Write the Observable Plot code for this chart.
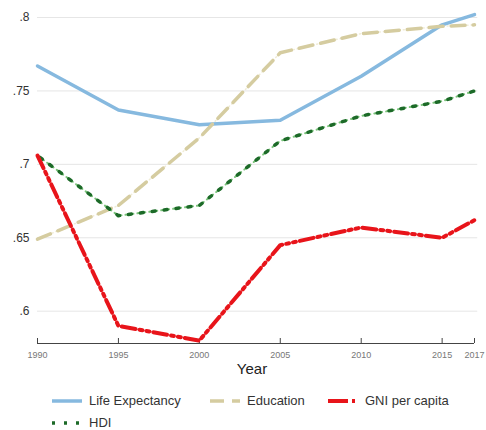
<!DOCTYPE html>
<html>
<head>
<meta charset="utf-8">
<script src="https://cdn.jsdelivr.net/npm/d3@7"></script>
<script src="https://cdn.jsdelivr.net/npm/@observablehq/plot@0.6"></script>
<style>
  body { margin: 0; background: #fff; font-family: "Liberation Sans", Arial, sans-serif; }
  #chart { width: 486px; }
  .legend { position: relative; height: 45px; font-size: 13px; color: #333; }
  .item { position: absolute; display: flex; align-items: center; white-space: nowrap; line-height: 14px; }
  .item svg { margin-right: 5px; }
</style>
</head>
<body>
<div id="chart"></div>
<script>
const years = [1990, 1995, 2000, 2005, 2010, 2015, 2017];
const lifeExpectancy = [0.767, 0.737, 0.727, 0.730, 0.760, 0.795, 0.802];
const education = [0.649, 0.672, 0.718, 0.776, 0.789, 0.794, 0.795];
const gniPerCapita = [0.706, 0.590, 0.580, 0.645, 0.657, 0.650, 0.662];
const hdi = [0.706, 0.665, 0.672, 0.716, 0.733, 0.743, 0.750];
const yTicks = [0.6, 0.65, 0.7, 0.75, 0.8];
const xTicks = [1990, 1995, 2000, 2005, 2010, 2015, 2017];

const series = [
  {name: "Life Expectancy", values: lifeExpectancy},
  {name: "Education", values: education},
  {name: "GNI per capita", values: gniPerCapita},
  {name: "HDI", values: hdi}
];
const rows = series.flatMap(s => years.map((y, i) => ({series: s.name, year: y, value: s.values[i]})));
const pick = n => rows.filter(d => d.series === n);

const yMin = 0.578;
const fmtY = d => d3.format(".2~f")(d).replace(/^0/, "");

const plot = Plot.plot({
  width: 486,
  height: 385,
  marginTop: 17,
  marginLeft: 37,
  marginRight: 12,
  marginBottom: 42,
  style: {fontFamily: "Liberation Sans, Arial, sans-serif", background: "#fff"},
  x: {domain: [1990, 2017]},
  y: {domain: [yMin, 0.8]},
  marks: [
    Plot.gridY(yTicks, {stroke: "#e6e6e6", strokeOpacity: 1, x1: 1990, x2: 2017.2}),
    Plot.axisY(yTicks, {tickSize: 0, tickPadding: 8, tickFormat: fmtY, fontSize: 12, fill: "#333", label: null}),
    Plot.ruleY([yMin], {stroke: "#444", strokeWidth: 1.2}),
    Plot.axisX(xTicks, {tickSize: -5, tickPadding: 13, tickFormat: d => String(d), fontSize: 9, fill: "#777", stroke: "#444", label: null}),
    Plot.text(["Year"], {frameAnchor: "bottom", dy: 30, dx: -4, fontSize: 15, fill: "#222"}),
    Plot.line(pick("Life Expectancy"), {x: "year", y: "value", stroke: "#86b9df", strokeWidth: 3.5}),
    Plot.line(pick("Education"), {x: "year", y: "value", stroke: "#f0ecd6", strokeWidth: 1.5, strokeDasharray: "1,3"}),
    Plot.line(pick("Education"), {x: "year", y: "value", stroke: "#d5cca0", strokeWidth: 3.5, strokeDasharray: "14,8"}),
    Plot.line(pick("HDI"), {x: "year", y: "value", stroke: "#7cc47c", strokeWidth: 2, strokeDasharray: "2,4"}),
    Plot.line(pick("HDI"), {x: "year", y: "value", stroke: "#1c6a28", strokeWidth: 3.5, strokeDasharray: "3,9", strokeDashoffset: -3}),
    Plot.line(pick("GNI per capita"), {x: "year", y: "value", stroke: "#e8141a", strokeWidth: 4, strokeDasharray: "14,4,3,4,3,4"})
  ]
});
document.getElementById("chart").appendChild(plot);

const legendItems = [
  {name: "Life Expectancy", left: 52, top: 9, draw: () => `<line x1="0" y1="6" x2="30" y2="6" stroke="#86b9df" stroke-width="3.5"/>`},
  {name: "Education", left: 210, top: 9, draw: () => `<line x1="0" y1="6" x2="30" y2="6" stroke="#d5cca0" stroke-width="3.5" stroke-dasharray="14,8"/>`},
  {name: "GNI per capita", left: 328, top: 9, draw: () => `<line x1="0" y1="6" x2="30" y2="6" stroke="#e8141a" stroke-width="4" stroke-dasharray="20,4,3,4"/>`},
  {name: "HDI", left: 52, top: 31, draw: () => `<line x1="0" y1="6" x2="30" y2="6" stroke="#1c6a28" stroke-width="3.5" stroke-dasharray="3,9"/>`}
];
const legend = document.createElement("div");
legend.className = "legend";
legend.innerHTML = legendItems.map(it =>
  `<div class="item" style="left:${it.left}px;top:${it.top}px"><svg width="32" height="12">${it.draw()}</svg><span>${it.name}</span></div>`
).join("");
document.getElementById("chart").appendChild(legend);
</script>
</body>
</html>
